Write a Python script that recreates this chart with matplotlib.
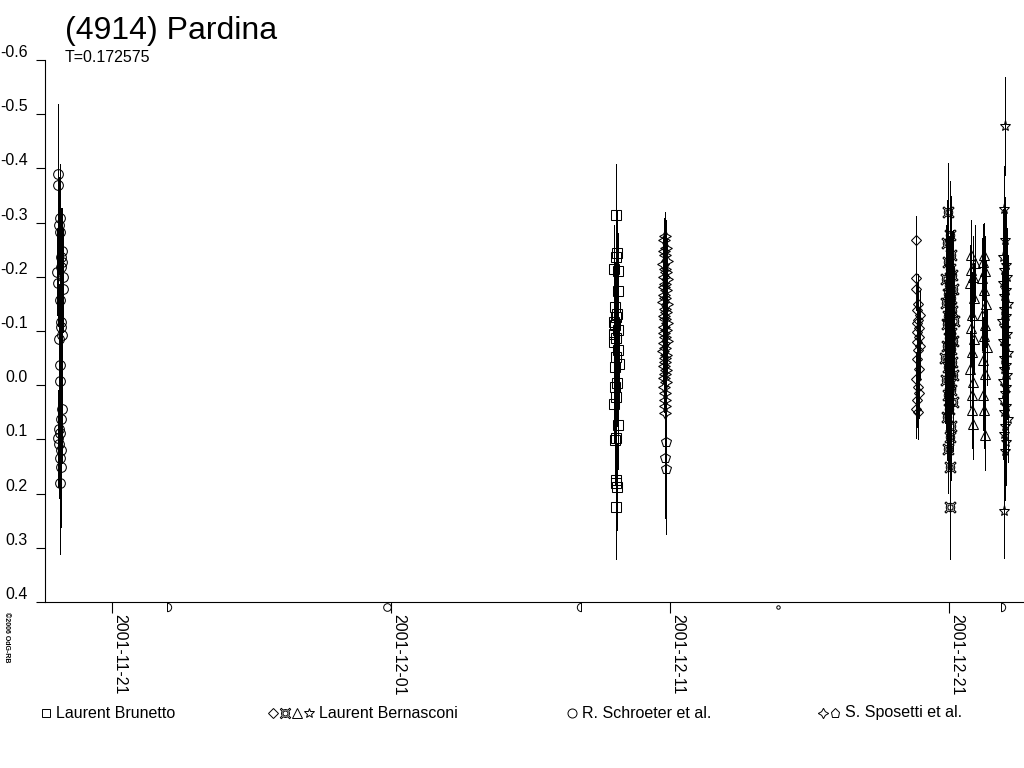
import numpy as np
import matplotlib
matplotlib.use('Agg')
import matplotlib.pyplot as plt
import matplotlib.dates as mdates
from matplotlib.path import Path
from matplotlib.lines import Line2D

plt.rcParams['font.family'] = ['Liberation Sans', 'DejaVu Sans']

# times are days after 2001-11-21 00:00 UT, magnitudes relative
start_date = '2001-11-21'

# R. Schroeter et al. (circles)
sch_t = [-1.93, -1.92, -1.85, -1.89, -1.87, -1.80, -1.83, -1.78, -1.81, -1.96,
         -1.77, -1.95, -1.76, -1.86, -1.84, -1.82, -1.91, -1.80, -1.85, -1.87,
         -1.79, -1.81, -1.89, -1.86, -1.92, -1.90, -1.83, -1.87, -1.84, -1.85]
sch_mag = [-0.389, -0.369, -0.309, -0.295, -0.283, -0.247, -0.237, -0.228, -0.218, -0.209,
           -0.200, -0.189, -0.178, -0.158, -0.117, -0.107, -0.086, -0.092, -0.037, -0.007,
           0.043, 0.062, 0.080, 0.089, 0.098, 0.108, 0.120, 0.135, 0.151, 0.181]
sch_err = [0.13, 0.12, 0.10, 0.09, 0.10, 0.08, 0.09, 0.08, 0.09, 0.08,
           0.09, 0.08, 0.08, 0.09, 0.08, 0.09, 0.10, 0.08, 0.09, 0.10,
           0.10, 0.09, 0.11, 0.10, 0.09, 0.10, 0.11, 0.10, 0.11, 0.13]

# Laurent Brunetto (squares)
bru_t = [18.07, 18.10, 18.05, 18.00, 18.14, 18.12, 18.03, 18.09, 18.06, 17.99,
         18.03, 18.13, 17.98, 18.08, 18.01, 18.12, 18.05, 18.16, 18.02, 18.10,
         18.04, 18.07, 18.00, 18.14, 18.06, 18.03, 18.08, 18.05, 18.09, 18.07]
bru_mag = [-0.314, -0.243, -0.236, -0.215, -0.211, -0.174, -0.145, -0.132, -0.125, -0.117,
           -0.111, -0.102, -0.095, -0.088, -0.080, -0.065, -0.052, -0.040, -0.034, -0.004,
           0.003, 0.021, 0.034, 0.074, 0.097, 0.102, 0.175, 0.181, 0.188, 0.225]
bru_err = [0.095, 0.08, 0.07, 0.08, 0.07, 0.09, 0.08, 0.09, 0.07, 0.08,
           0.09, 0.08, 0.07, 0.09, 0.08, 0.09, 0.08, 0.07, 0.09, 0.08,
           0.09, 0.08, 0.07, 0.08, 0.09, 0.08, 0.10, 0.09, 0.08, 0.095]

# S. Sposetti et al. (four point stars and pentagons)
spo_t = [19.84, 19.80, 19.86, 19.78, 19.83, 19.88, 19.76, 19.81, 19.85, 19.79,
         19.90, 19.82, 19.77, 19.87, 19.80, 19.84, 19.75, 19.89, 19.81, 19.86,
         19.78, 19.83, 19.91, 19.79, 19.85, 19.77, 19.82, 19.88, 19.80, 19.84,
         19.76, 19.87, 19.81, 19.83, 19.79, 19.86, 19.82, 19.78, 19.85, 19.80,
         19.84, 19.81, 19.83, 19.82]
spo_mag = [-0.275, -0.268, -0.254, -0.247, -0.240, -0.229, -0.224, -0.215, -0.209, -0.200,
           -0.196, -0.187, -0.181, -0.175, -0.166, -0.160, -0.153, -0.149, -0.141, -0.135,
           -0.127, -0.122, -0.114, -0.108, -0.101, -0.096, -0.089, -0.082, -0.077, -0.069,
           -0.063, -0.055, -0.050, -0.043, -0.036, -0.028, -0.021, -0.013, -0.006, 0.004,
           0.015, 0.027, 0.038, 0.051]
spo_err = [0.045, 0.04, 0.05, 0.045, 0.055, 0.04, 0.05, 0.06, 0.045, 0.05,
           0.04, 0.055, 0.05, 0.045, 0.06, 0.04, 0.05, 0.055, 0.045, 0.05,
           0.06, 0.04, 0.05, 0.045, 0.055, 0.05, 0.04, 0.06, 0.045, 0.05,
           0.055, 0.04, 0.05, 0.045, 0.06, 0.05, 0.04, 0.055, 0.05, 0.045,
           0.06, 0.05, 0.055, 0.05]
spo2_t = [19.86, 19.84, 19.85]
spo2_mag = [0.105, 0.135, 0.155]
spo2_err = [0.10, 0.11, 0.12]

# Laurent Bernasconi, four nights (diamond, currency sign, triangle, star)
ber1_t = [28.82, 28.83, 28.81, 28.90, 28.86, 28.95, 28.88, 28.84, 28.93, 28.87, 28.91,
          28.85, 28.96, 28.89, 28.86, 28.92, 28.82, 28.90, 28.94, 28.85, 28.83, 28.88]
ber1_mag = [-0.268, -0.197, -0.178, -0.150, -0.138, -0.129, -0.121, -0.114, -0.105, -0.098, -0.089,
            -0.080, -0.072, -0.065, -0.048, -0.030, -0.012, 0.003, 0.015, 0.028, 0.043, 0.050]
ber1_err = [0.045, 0.05, 0.04, 0.055, 0.05, 0.045, 0.06, 0.05, 0.04, 0.055, 0.05,
            0.045, 0.06, 0.05, 0.055, 0.04, 0.05, 0.06, 0.045, 0.05, 0.055, 0.05]

ber2_t = [29.98, 30.02, 29.93, 30.08, 29.96, 30.05, 30.12, 29.90, 30.00, 30.15,
          29.95, 30.06, 29.88, 30.03, 30.10, 29.97, 30.18, 29.92, 30.04, 30.09,
          29.99, 30.13, 29.94, 30.07, 30.01, 29.86, 30.11, 29.96, 30.05, 30.16,
          29.91, 30.03, 30.08, 29.98, 30.14, 30.00, 29.93, 30.06, 30.02, 29.97,
          30.04, 30.05]
ber2_mag = [-0.320, -0.277, -0.262, -0.240, -0.228, -0.215, -0.204, -0.196, -0.185, -0.177,
            -0.168, -0.160, -0.151, -0.143, -0.136, -0.128, -0.119, -0.112, -0.104, -0.097,
            -0.088, -0.081, -0.073, -0.066, -0.058, -0.050, -0.042, -0.034, -0.027, -0.019,
            -0.010, -0.002, 0.008, 0.019, 0.031, 0.044, 0.058, 0.075, 0.095, 0.118,
            0.150, 0.225]
ber2_err = [0.09, 0.10, 0.08, 0.11, 0.09, 0.12, 0.08, 0.10, 0.09, 0.11,
            0.08, 0.10, 0.12, 0.09, 0.08, 0.11, 0.10, 0.09, 0.12, 0.08,
            0.10, 0.09, 0.11, 0.08, 0.10, 0.12, 0.09, 0.08, 0.11, 0.10,
            0.09, 0.12, 0.08, 0.10, 0.09, 0.11, 0.08, 0.10, 0.09, 0.08,
            0.10, 0.095]

ber3_t = [30.78, 30.92, 30.80, 30.85, 30.75, 30.88, 30.82, 30.79, 30.90, 30.84,
          30.77, 30.86, 30.81, 30.83, 30.87,
          31.25, 31.22, 31.30, 31.18, 31.27, 31.33, 31.20, 31.28, 31.24, 31.35,
          31.21, 31.29, 31.23, 31.26, 31.31]
ber3_mag = [-0.240, -0.225, -0.212, -0.200, -0.188, -0.160, -0.129, -0.105, -0.085, -0.062,
            -0.030, -0.006, 0.018, 0.045, 0.071,
            -0.240, -0.228, -0.210, -0.197, -0.175, -0.150, -0.130, -0.111, -0.090, -0.070,
            -0.046, -0.020, 0.018, 0.046, 0.092]
ber3_err = [0.065, 0.07, 0.06, 0.075, 0.07, 0.065, 0.08, 0.07, 0.065, 0.075,
            0.07, 0.08, 0.075, 0.07, 0.065,
            0.06, 0.07, 0.065, 0.075, 0.07, 0.08, 0.065, 0.07, 0.075, 0.07,
            0.08, 0.07, 0.065, 0.07, 0.065]

ber4_t = [32.01, 31.99, 32.00, 31.95, 32.05, 31.97, 32.08, 31.93, 32.03, 31.98,
          32.10, 31.96, 32.04, 31.91, 32.02, 32.07, 31.94, 32.00, 32.12, 31.97,
          32.05, 31.99, 32.09, 31.92, 32.03, 32.01, 31.95, 32.06, 31.98, 32.11,
          32.02, 31.96, 32.04, 32.00, 31.99]
ber4_mag = [-0.478, -0.325, -0.268, -0.236, -0.222, -0.213, -0.200, -0.188, -0.176, -0.165,
            -0.150, -0.140, -0.128, -0.118, -0.105, -0.095, -0.082, -0.073, -0.060, -0.050,
            -0.038, -0.030, -0.018, -0.008, 0.004, 0.015, 0.027, 0.038, 0.050, 0.062,
            0.075, 0.090, 0.105, 0.122, 0.233]
ber4_err = [0.09, 0.08, 0.08, 0.09, 0.10, 0.08, 0.09, 0.11, 0.08, 0.10,
            0.09, 0.08, 0.10, 0.09, 0.11, 0.08, 0.09, 0.10, 0.08, 0.09,
            0.11, 0.10, 0.08, 0.09, 0.10, 0.08, 0.11, 0.09, 0.10, 0.08,
            0.09, 0.10, 0.08, 0.09, 0.085]

# moon phases shown under the time axis
moon_dates = ['2001-11-22 23:21', '2001-11-30 20:49', '2001-12-07 19:52',
              '2001-12-14 20:47', '2001-12-22 20:56']
moon_phase = ['first', 'full', 'last', 'new', 'first']

tick_dates = ['2001-11-21', '2001-12-01', '2001-12-11', '2001-12-21']
y_ticks = [-0.6, -0.5, -0.4, -0.3, -0.2, -0.1, 0.0, 0.1, 0.2, 0.3, 0.4]

observers = ['Laurent Brunetto', 'Laurent Bernasconi', 'R. Schroeter et al.', 'S. Sposetti et al.']


t0 = mdates.datestr2num(start_date)

fig = plt.figure(figsize=(10.24, 7.68), dpi=100)
ax = fig.add_axes([45 / 1024, 166 / 768, 979 / 1024, 542 / 768])

# custom markers
four_star = (4, 1, 0)
half = Path.arc(-90, 90)
right_half = Path(np.vstack([half.vertices, half.vertices[:1]]),
                  list(half.codes) + [Path.CLOSEPOLY])
left_half = Path(np.vstack([-half.vertices[:, 0], half.vertices[:, 1]]).T.tolist()
                 + [[-half.vertices[0, 0], half.vertices[0, 1]]],
                 list(half.codes) + [Path.CLOSEPOLY])


def series(t, mag, err, marker, ms):
    x = t0 + np.array(t)
    m = np.array(mag)
    e = np.array(err)
    ax.vlines(x, m - e, m + e, colors='black', linewidth=0.6, antialiased=False)
    ax.plot(x, m, linestyle='none', marker=marker, ms=ms,
            mfc='none', mec='black', mew=0.75)


series(sch_t, sch_mag, sch_err, 'o', 7)
series(bru_t, bru_mag, bru_err, 's', 6.5)
series(spo_t, spo_mag, spo_err, four_star, 8.5)
series(spo2_t, spo2_mag, spo2_err, 'p', 7.5)
series(ber1_t, ber1_mag, ber1_err, 'D', 5.5)
series(ber2_t, ber2_mag, ber2_err, '$\u00a4$', 8)
series(ber3_t, ber3_mag, ber3_err, '^', 7)
series(ber4_t, ber4_mag, ber4_err, '*', 8)

ax.set_xlim(t0 - 2.40, t0 + 32.69)
ax.set_ylim(0.4, -0.6)

ax.spines['top'].set_visible(False)
ax.spines['right'].set_visible(False)
ax.spines['left'].set_linewidth(0.8)
ax.spines['bottom'].set_linewidth(0.8)

ax.set_xticks([mdates.datestr2num(d) for d in tick_dates])
ax.set_xticklabels(tick_dates, rotation=-90, ha='left', va='top', fontsize=11.5)
ax.tick_params(axis='x', direction='out', length=8, width=0.8, pad=1)

ax.set_yticks(y_ticks)
ax.set_yticklabels(['%.1f' % v for v in y_ticks], va='bottom', fontsize=11.5)
ax.tick_params(axis='y', direction='out', length=6.5, width=0.8, pad=6)

# moon phase symbols
moon_marker = {'first': (right_half, 6), 'full': ('o', 5.5),
               'last': (left_half, 6), 'new': ('o', 2.5)}
for d, ph in zip(moon_dates, moon_phase):
    mk, size = moon_marker[ph]
    ax.plot([mdates.datestr2num(d)], [-0.01], transform=ax.get_xaxis_transform(),
            marker=mk, ms=size, mfc='none', mec='black', mew=0.7,
            linestyle='none', clip_on=False)

# titles
fig.text(65 / 1024, 1 - 31 / 768, '(4914) Pardina', fontsize=23, ha='left', va='center')
fig.text(65 / 1024, 1 - 58 / 768, 'T=0.172575', fontsize=11.5, ha='left', va='center')
fig.text(3 / 1024, 1 - 612 / 768, '\u00a92006 OdG-RB', fontsize=5, rotation=-90,
         ha='left', va='top', weight='bold')

# legend row
leg_y = 1 - 713 / 768
leg_markers = [[('s', 5.5)], [('D', 5), ('$\u00a4$', 7.5), ('^', 6.5), ('*', 7.5)],
               [('o', 6.5)], [(four_star, 7.5), ('p', 6.5)]]
leg_x0 = [46, 273, 572, 823]
for name, mks, x0 in zip(observers, leg_markers, leg_x0):
    x = x0
    for mk, size in mks:
        fig.add_artist(Line2D([x / 1024], [leg_y], transform=fig.transFigure,
                              marker=mk, ms=size, mfc='none', mec='black', mew=0.7,
                              linestyle='none'))
        x += 12
    fig.text((x - 2) / 1024, leg_y, name, fontsize=11.5, ha='left', va='center')

fig.savefig('out.png', dpi=100)
